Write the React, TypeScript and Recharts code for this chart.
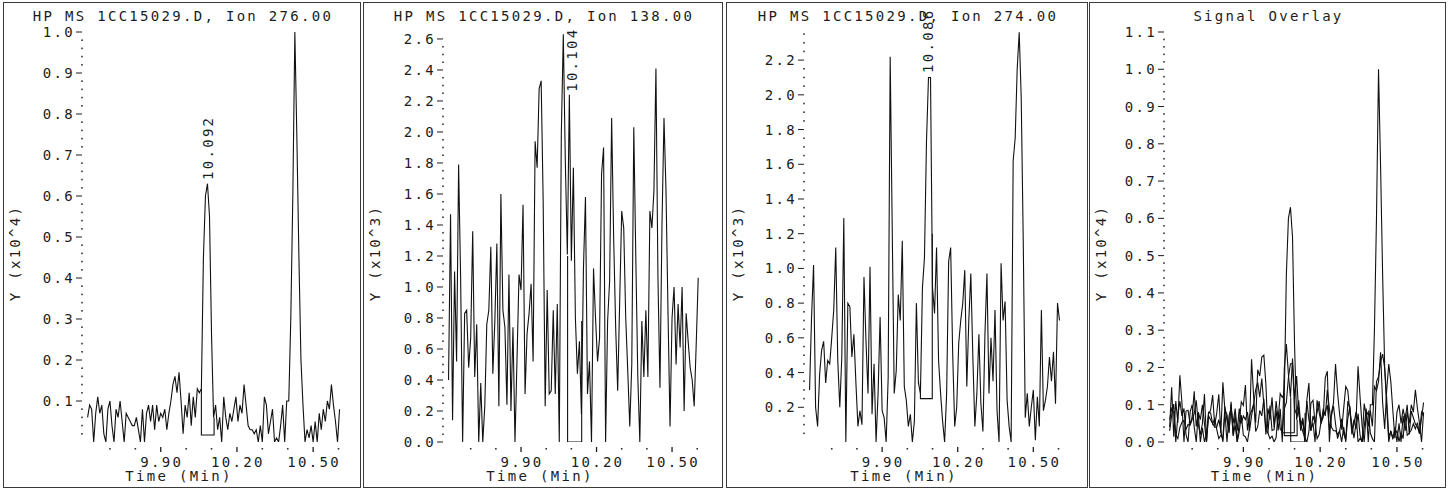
import React from "react";
import { LineChart, Line, XAxis, YAxis, ReferenceDot } from "recharts";

// scan grid (min)
const T0 = 9.612;
const DT = 0.008;

// Ion 276 (x10^4)
const ion276 = [
  0.06, 0.09, 0.08, 0.0, 0.07, 0.11, 0.07, 0.09, 0.02, 0.0,
  0.08, 0.1, 0.04, 0.0, 0.08, 0.06, 0.1, 0.05, 0.0, 0.07,
  0.06, 0.05, 0.04, 0.04, 0.06, 0.03, 0.0, 0.08, 0.0, 0.07,
  0.09, 0.05, 0.09, 0.03, 0.09, 0.05, 0.07, 0.06, 0.08, 0.03,
  0.07, 0.1, 0.14, 0.16, 0.12, 0.17, 0.1, 0.02, 0.09, 0.06,
  0.12, 0.04, 0.11, 0.06, 0.13, 0.12, 0.13, 0.45, 0.6, 0.63,
  0.55, 0.26, 0.06, 0.09, 0.03, 0.06, 0.0, 0.11, 0.06, 0.03,
  0.07, 0.05, 0.08, 0.11, 0.05, 0.09, 0.07, 0.14, 0.09, 0.04,
  0.03, 0.03, 0.02, 0.03, 0.0, 0.04, 0.0, 0.11, 0.09, 0.02,
  0.05, 0.08, 0.0, 0.01, 0.0, 0.04, 0.09, 0.0, 0.1, 0.1,
  0.3, 0.6, 1.0, 0.74, 0.45, 0.2, 0.09, 0.0, 0.03, 0.01,
  0.04, 0.0, 0.05, 0.0, 0.07, 0.03, 0.08, 0.05, 0.1, 0.08,
  0.14, 0.09, 0.05, 0.0, 0.08,
];

// Ion 138 (x10^3)
const ion138 = [
  0.4, 1.47, 0.14, 1.1, 0.52, 1.79, 1.06, 0.0, 0.83, 0.85,
  0.48, 0.67, 1.36, 0.42, 0.76, 0.0, 0.38, 0.0, 0.23, 0.76,
  0.85, 1.26, 0.44, 0.78, 1.28, 0.23, 1.6, 0.85, 0.74, 0.24,
  1.08, 0.2, 0.74, 0.0, 0.53, 1.08, 0.98, 1.53, 0.31, 0.7,
  0.83, 1.02, 0.52, 1.94, 1.77, 2.28, 2.33, 1.55, 0.23, 0.98,
  0.31, 0.33, 0.85, 0.31, 0.89, 0.0, 1.98, 2.63, 1.81, 1.21,
  2.24, 1.17, 1.77, 0.8, 0.44, 0.65, 0.18, 1.12, 1.58, 0.31,
  0.52, 0.0, 1.12, 0.8, 0.52, 0.67, 1.73, 1.9, 0.0, 0.78,
  1.04, 2.09, 1.32, 0.74, 0.33, 0.91, 1.49, 1.38, 0.8, 0.46,
  0.1, 0.5, 2.03, 1.19, 0.42, 0.0, 0.78, 0.42, 0.85, 0.42,
  1.49, 1.38, 1.62, 2.41, 1.06, 0.35, 1.4, 2.09, 1.62, 0.83,
  0.1, 0.8, 1.0, 0.5, 0.89, 0.61, 1.0, 0.2, 0.83, 0.65,
  0.48, 0.4, 0.23, 0.63, 1.06,
];

// Ion 274 (x10^3)
const ion274 = [
  0.3, 0.72, 1.02, 0.2, 0.09, 0.39, 0.53, 0.58, 0.34, 0.47,
  0.45, 0.6, 0.76, 1.12, 0.47, 0.2, 0.49, 1.29, 0.0, 0.8,
  0.78, 0.49, 0.62, 0.34, 0.09, 0.18, 0.1, 0.95, 0.58, 0.28,
  1.01, 0.16, 0.45, 0.0, 0.28, 0.72, 0.18, 0.14, 0.0, 0.37,
  2.22, 1.24, 0.28, 0.41, 0.85, 0.7, 1.16, 0.32, 0.24, 0.09,
  0.16, 0.0, 0.12, 0.8, 0.34, 0.28, 0.89, 1.06, 1.73, 2.1,
  2.1, 0.89, 0.74, 1.12, 0.47, 0.28, 0.12, 0.0, 0.28, 1.04,
  1.12, 0.51, 0.09, 0.2, 0.57, 0.7, 0.8, 0.99, 0.32, 0.7,
  0.97, 0.49, 0.09, 0.28, 0.62, 0.22, 0.06, 0.62, 0.97, 0.28,
  0.6, 0.35, 0.76, 0.18, 0.0, 1.03, 0.7, 0.81, 0.24, 0.09,
  0.0, 1.62, 1.75, 2.15, 2.36, 1.98, 1.16, 0.14, 0.28, 0.09,
  0.2, 0.3, 0.01, 0.26, 0.09, 0.76, 0.18, 0.24, 0.32, 0.49,
  0.35, 0.52, 0.22, 0.8, 0.7,
];

// integration baselines drawn under the labelled peaks
const ion276Base = [
  { t: 10.06, v: 0.13 },
  { t: 10.06, v: 0.017 },
  { t: 10.11, v: 0.017 },
  { t: 10.11, v: 0.06 },
];
const ion138Base = [
  { t: 10.085, v: 1.2 },
  { t: 10.085, v: 0 },
  { t: 10.141, v: 0 },
  { t: 10.141, v: 0.78 },
];
const ion274Base = [
  { t: 10.052, v: 0.35 },
  { t: 10.052, v: 0.25 },
  { t: 10.099, v: 0.25 },
  { t: 10.099, v: 1.2 },
];

const xMajor = [9.9, 10.2, 10.5];
const xMinor = [9.7, 9.8, 10.0, 10.1, 10.3, 10.4, 10.6];
const xDomain: [number, number] = [9.59, 10.64];

const y276Major = [0.1, 0.2, 0.3, 0.4, 0.5, 0.6, 0.7, 0.8, 0.9, 1.0];
const y138Major = [0, 0.2, 0.4, 0.6, 0.8, 1.0, 1.2, 1.4, 1.6, 1.8, 2.0, 2.2, 2.4, 2.6];
const y274Major = [0.2, 0.4, 0.6, 0.8, 1.0, 1.2, 1.4, 1.6, 1.8, 2.0, 2.2];
const yOverlayMajor = [0, 0.1, 0.2, 0.3, 0.4, 0.5, 0.6, 0.7, 0.8, 0.9, 1.0, 1.1];

const FONT = '"DejaVu Sans Mono", "Liberation Mono", monospace';
const INK = "#1c1c1c";
const SVG_H = 484;
const PLOT_TOP = 29;
const PLOT_H = 410;
const PLOT_BOTTOM = PLOT_TOP + PLOT_H;

const toPoints = (vals: number[], scale = 1) =>
  vals.map((v, i) => ({ t: +(T0 + i * DT).toFixed(3), v: v * scale }));

const scaleBase = (pts: { t: number; v: number }[], s: number) =>
  pts.map((p) => ({ t: p.t, v: p.v * s }));

function minorTicks(max: number, step: number, majors: number[]) {
  const out: number[] = [];
  const n = Math.floor(max / step + 1e-6);
  for (let k = 1; k <= n; k++) {
    const v = +(k * step).toFixed(3);
    if (!majors.some((m) => Math.abs(m - v) < 1e-6)) out.push(v);
  }
  return out;
}

const textStyle = {
  fontFamily: FONT,
  fontSize: 14,
  letterSpacing: 2.3,
  fill: INK,
} as const;

const PeakLabel = (props: any) => {
  const vb = props.viewBox || {};
  const x = (vb.x ?? 0) + (vb.width ?? 0) / 2;
  const y = (vb.y ?? 0) + (vb.height ?? 0) / 2;
  return (
    <text x={x} y={y} transform={`rotate(-90 ${x} ${y})`} {...textStyle}>
      {props.text}
    </text>
  );
};

interface PanelProps {
  left: number;
  width: number;
  axisX: number;
  pxPerMin: number;
  title: string;
  yLabel: string;
  yMax: number;
  yMajor: number[];
  yStep: number;
  lines: { t: number; v: number }[][];
  peak?: { t: number; v: number; text: string };
}

function Panel(p: PanelProps) {
  const svgW = p.width - 2;
  const yAxisW = p.axisX - (p.left + 1);
  const plotW = (xDomain[1] - xDomain[0]) * p.pxPerMin;
  const right = svgW - yAxisW - plotW;
  const yTicks = [...p.yMajor, ...minorTicks(p.yMax, p.yStep, p.yMajor)].sort(
    (a, b) => a - b
  );
  const xTicks = [...xMajor, ...xMinor].sort((a, b) => a - b);

  const renderYTick = (props: any) => {
    const v = props.payload.value;
    const y = props.y;
    const major = p.yMajor.some((m) => Math.abs(m - v) < 1e-6);
    if (!major)
      return <rect x={yAxisW - 0.8} y={y - 0.8} width={1.6} height={1.6} fill="#333" />;
    return (
      <g>
        <line x1={yAxisW - 6} x2={yAxisW} y1={y} y2={y} stroke={INK} strokeWidth={1} />
        <text x={yAxisW - 7} y={y + 5} textAnchor="end" {...textStyle}>
          {v.toFixed(1)}
        </text>
      </g>
    );
  };

  const renderXTick = (props: any) => {
    const v = props.payload.value;
    const x = props.x;
    const major = xMajor.some((m) => Math.abs(m - v) < 1e-6);
    if (!major)
      return <rect x={x - 0.8} y={PLOT_BOTTOM + 6} width={1.6} height={1.6} fill="#333" />;
    return (
      <g>
        <line x1={x} x2={x} y1={PLOT_BOTTOM + 5} y2={PLOT_BOTTOM + 10} stroke={INK} strokeWidth={1.3} />
        <text x={x + 1} y={PLOT_BOTTOM + 25} textAnchor="middle" {...textStyle}>
          {v.toFixed(2)}
        </text>
      </g>
    );
  };

  return (
    <div
      style={{
        position: "absolute",
        left: p.left,
        top: 2,
        width: p.width,
        height: SVG_H + 2,
        boxSizing: "border-box",
        border: "1px solid #3a3a3a",
        background: "#fff",
      }}
    >
      <LineChart
        width={svgW}
        height={SVG_H}
        margin={{ top: PLOT_TOP, right, bottom: 0, left: 0 }}
      >
        <XAxis
          dataKey="t"
          type="number"
          domain={xDomain}
          allowDataOverflow
          ticks={xTicks}
          interval={0}
          axisLine={false}
          tickLine={false}
          height={SVG_H - PLOT_BOTTOM}
          tick={renderXTick}
        />
        <YAxis
          type="number"
          domain={[0, p.yMax]}
          allowDataOverflow
          ticks={yTicks}
          interval={0}
          axisLine={false}
          tickLine={false}
          width={yAxisW}
          tick={renderYTick}
        />
        {p.lines.map((d, i) => (
          <Line
            key={i}
            data={d}
            dataKey="v"
            type="linear"
            stroke="#111"
            strokeWidth={1.1}
            dot={false}
            activeDot={false}
            isAnimationActive={false}
          />
        ))}
        {p.peak && (
          <ReferenceDot
            x={p.peak.t}
            y={p.peak.v}
            r={1}
            fill="none"
            stroke="none"
            ifOverflow="visible"
            label={<PeakLabel text={p.peak.text} />}
          />
        )}
      </LineChart>
      <svg
        width={svgW}
        height={SVG_H}
        style={{ position: "absolute", left: 0, top: 0, pointerEvents: "none" }}
      >
        <text x={svgW / 2 + 1} y={18} textAnchor="middle" {...textStyle}>
          {p.title}
        </text>
        <text
          x={16}
          y={250}
          textAnchor="middle"
          transform="rotate(-90 16 250)"
          {...textStyle}
        >
          {p.yLabel}
        </text>
        <text x={svgW / 2 - 3} y={478} textAnchor="middle" {...textStyle}>
          Time (Min)
        </text>
      </svg>
    </div>
  );
}

export default function App() {
  const s276 = toPoints(ion276);
  const s138 = toPoints(ion138);
  const s274 = toPoints(ion274);
  return (
    <div
      style={{
        position: "fixed",
        left: 0,
        top: 0,
        width: 1453,
        height: 490,
        background: "#fff",
      }}
    >
      <Panel
        left={3}
        width={358}
        axisX={82}
        pxPerMin={254}
        title="HP MS 1CC15029.D, Ion 276.00"
        yLabel="Y (x10^4)"
        yMax={1.0}
        yMajor={y276Major}
        yStep={0.02}
        lines={[s276, ion276Base]}
        peak={{ t: 10.104, v: 0.639, text: "10.092" }}
      />
      <Panel
        left={363}
        width={360}
        axisX={443}
        pxPerMin={251.7}
        title="HP MS 1CC15029.D, Ion 138.00"
        yLabel="Y (x10^3)"
        yMax={2.645}
        yMajor={y138Major}
        yStep={0.05}
        lines={[s138, ion138Base]}
        peak={{ t: 10.122, v: 2.259, text: "10.104" }}
      />
      <Panel
        left={726}
        width={362}
        axisX={804}
        pxPerMin={252}
        title="HP MS 1CC15029.D, Ion 274.00"
        yLabel="Y (x10^3)"
        yMax={2.362}
        yMajor={y274Major}
        yStep={0.05}
        lines={[s274, ion274Base]}
        peak={{ t: 10.102, v: 2.126, text: "10.086" }}
      />
      <Panel
        left={1089}
        width={357}
        axisX={1164}
        pxPerMin={256}
        title="Signal Overlay"
        yLabel="Y (x10^4)"
        yMax={1.1}
        yMajor={yOverlayMajor}
        yStep={0.02}
        lines={[
          toPoints(ion138, 0.1),
          toPoints(ion274, 0.1),
          s276,
          scaleBase(ion138Base, 0.1),
          scaleBase(ion274Base, 0.1),
          ion276Base,
        ]}
      />
    </div>
  );
}
